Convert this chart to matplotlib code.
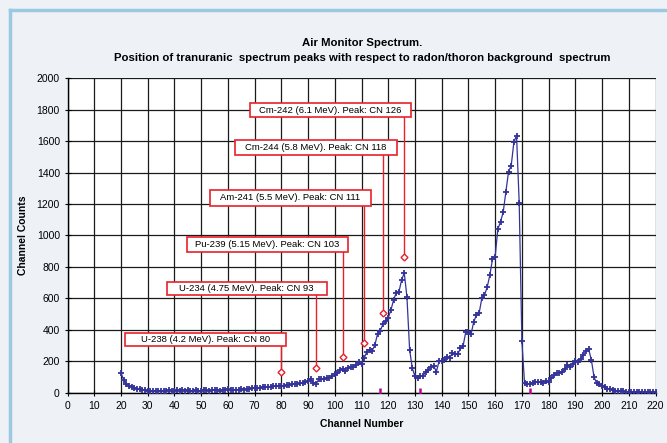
import numpy as np
import matplotlib
matplotlib.use("Agg")
import matplotlib.pyplot as plt
from matplotlib.patches import Rectangle
from matplotlib.lines import Line2D

plt.rcParams['font.family'] = ['Liberation Sans', 'DejaVu Sans']

# spectrum, channel 20..220
channels = np.arange(20, 221)
counts = [
    128, 83, 57, 45, 40, 34, 27, 25, 21, 18,
    15, 14, 13, 15, 12, 14, 13, 12, 16, 13,
    14, 16, 15, 18, 14, 16, 15, 13, 16, 14,
    15, 17, 16, 14, 18, 16, 17, 15, 19, 22,
    24, 20, 21, 18, 22, 25, 21, 24, 28, 30,
    34, 32, 33, 35, 36, 40, 38, 42, 45, 44,
    46, 42, 50, 52, 55, 57, 60, 63, 65, 70,
    78, 90, 66, 57, 86, 89, 91, 94, 98, 108,
    120, 130, 146, 154, 140, 157, 162, 168, 180, 194,
    182, 222, 262, 275, 268, 305, 375, 395, 436, 455,
    478, 527, 590, 637, 642, 718, 762, 608, 275, 158,
    106, 95, 108, 110, 132, 145, 165, 172, 135, 200,
    205, 210, 231, 224, 252, 245, 245, 284, 298, 387,
    386, 375, 453, 495, 506, 601, 622, 671, 747, 849,
    866, 1039, 1088, 1147, 1274, 1405, 1443, 1592, 1634, 1208,
    330, 61, 57, 60, 65, 68, 70, 72, 63, 78,
    72, 93, 114, 125, 130, 135, 150, 178, 167, 184,
    205, 199, 214, 241, 269, 277, 210, 100, 62, 55,
    44, 36, 28, 23, 17, 14, 12, 11, 10, 9,
    9, 8, 8, 8, 7, 7, 7, 7, 6, 6, 6,
]

# transuranic peak markers
labels = [
    "U-238 (4.2 MeV). Peak: CN 80",
    "U-234 (4.75 MeV). Peak: CN 93",
    "Pu-239 (5.15 MeV). Peak: CN 103",
    "Am-241 (5.5 MeV). Peak: CN 111",
    "Cm-244 (5.8 MeV). Peak: CN 118",
    "Cm-242 (6.1 MeV). Peak: CN 126",
]
peak_cn = [80, 93, 103, 111, 118, 126]
peak_counts = [135, 157, 227, 320, 506, 862]

# small markers on the baseline
tick_cn = [117, 132, 173]
tick_counts = [10, 10, 10]

# label box layout: (left, right, bottom, top) in data units
boxes = [
    (21.5, 81.8, 298, 381),
    (37.1, 97.0, 622, 707),
    (44.7, 105.0, 897, 992),
    (53.3, 113.6, 1189, 1289),
    (62.7, 123.3, 1511, 1606),
    (68.3, 128.5, 1750, 1843),
]

fig = plt.figure(figsize=(6.67, 4.43), dpi=100)
fig.patch.set_facecolor('#eef2f7')
# light blue frame edges (left, top)
fig.add_artist(Line2D([0.015, 0.015], [0.0, 0.977], transform=fig.transFigure,
                      color='#9cc8e0', lw=2.5))
fig.add_artist(Line2D([0.015, 1.0], [0.977, 0.977], transform=fig.transFigure,
                      color='#9cc8e0', lw=2.5))

ax = fig.add_axes([0.1012, 0.1129, 0.8816, 0.7110])
ax.set_facecolor('white')

ax.set_xlim(0, 220)
ax.set_ylim(0, 2000)
ax.set_xticks(range(0, 221, 10))
ax.set_yticks(range(0, 2001, 200))
ax.grid(True, color='#1a1a1a', lw=0.9)
ax.set_axisbelow(True)
for s in ['top', 'right']:
    ax.spines[s].set_visible(False)
ax.spines['left'].set_linewidth(1.0)
ax.spines['bottom'].set_linewidth(1.0)
ax.tick_params(direction='inout', length=5, width=0.8, labelsize=7.5, pad=3)

ax.plot(channels, counts, color='#333399', lw=0.9, marker='+',
        markersize=3.8, markeredgewidth=1.3, zorder=5)

ax.plot(tick_cn, tick_counts, linestyle='none', marker='|', color='#c0008c',
        markersize=4, markeredgewidth=1.8, zorder=4)

for lab, cn, pc, (x0, x1, y0, y1) in zip(labels, peak_cn, peak_counts, boxes):
    ax.plot([cn, cn], [y0, pc], color='#e8202a', lw=1.0, zorder=6)
    ax.plot([cn], [pc], marker='D', markersize=3.5, markerfacecolor='white',
            markeredgecolor='#e8202a', markeredgewidth=1.0, zorder=7)
    ax.add_patch(Rectangle((x0, y0), x1 - x0, y1 - y0, facecolor='white',
                           edgecolor='#e8202a', lw=1.2, zorder=8))
    ax.text((x0 + x1) / 2, (y0 + y1) / 2, lab, ha='center', va='center',
            fontsize=6.8, zorder=9)

ax.set_xlabel("Channel Number", fontsize=7.5, fontweight='bold', labelpad=6)
ax.set_ylabel("Channel Counts", fontsize=7.5, fontweight='bold', labelpad=6)

fig.text(0.5427, 0.902, "Air Monitor Spectrum.", ha='center', va='center',
         fontsize=8.2, fontweight='bold')
fig.text(0.5427, 0.868, "Position of tranuranic  spectrum peaks with respect to radon/thoron background  spectrum",
         ha='center', va='center', fontsize=8.2, fontweight='bold')

fig.savefig("out.png", dpi=100, facecolor=fig.get_facecolor())
